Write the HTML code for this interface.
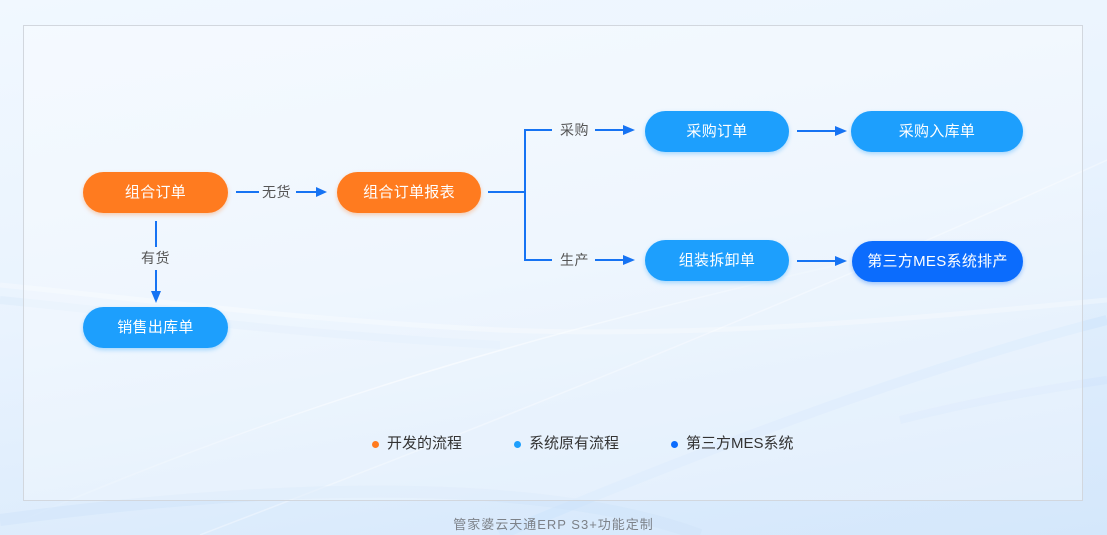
<!DOCTYPE html>
<html><head><meta charset="utf-8">
<style>
html,body{margin:0;padding:0;}
body{width:1107px;height:535px;overflow:hidden;position:relative;
font-family:"Liberation Sans","Noto Sans CJK SC",sans-serif;
background:linear-gradient(170deg,#f1f8ff 0%,#e9f3fe 45%,#dbebfc 80%,#d4e7fb 100%);}
svg.bg{position:absolute;left:0;top:0;}
.frame{position:absolute;left:23px;top:25px;width:1058px;height:474px;border:1px solid #d2d7de;background:rgba(255,255,255,0.3);}
.node{position:absolute;height:41px;border-radius:21px;color:#fff;font-size:15px;line-height:41px;text-align:center;letter-spacing:0.3px;}
.o{background:#ff7b1f;box-shadow:0 2px 4px rgba(255,123,31,0.35);}
.b{background:#1d9ffd;box-shadow:0 2px 4px rgba(29,159,253,0.35);}
.d{background:#0b6cfd;box-shadow:0 2px 4px rgba(11,108,253,0.35);}
.lbl{position:absolute;font-size:14px;color:#555;line-height:16px;letter-spacing:0.5px;}
.leg{position:absolute;top:435px;font-size:15px;color:#333;line-height:18px;}
.dot{position:absolute;width:7px;height:7px;border-radius:50%;top:441px;}
.foot{position:absolute;top:514px;left:0;width:1107px;text-align:center;font-size:13px;color:#7d8289;letter-spacing:1px;}
</style></head><body>
<svg class="bg" width="1107" height="535">
<defs>
<linearGradient id="s1" x1="0" y1="0" x2="1" y2="0">
<stop offset="0" stop-color="#fff" stop-opacity="0"/><stop offset="0.5" stop-color="#fff" stop-opacity="0.6"/><stop offset="1" stop-color="#fff" stop-opacity="0.1"/></linearGradient>
</defs>
<path d="M0 285 C150 300 300 320 500 330 C700 338 900 320 1107 300" stroke="#fff" stroke-opacity="0.3" stroke-width="5" fill="none"/>
<path d="M0 300 C150 315 300 335 500 345" stroke="#d6e8fb" stroke-opacity="0.4" stroke-width="8" fill="none"/>
<path d="M0 530 C250 420 500 340 860 260" stroke="url(#s1)" stroke-width="1.5" fill="none"/>
<path d="M200 535 C500 420 800 300 1107 160" stroke="#fff" stroke-opacity="0.35" stroke-width="1.5" fill="none"/>
<path d="M500 535 C750 430 950 360 1107 320" stroke="#cfe4fb" stroke-opacity="0.6" stroke-width="10" fill="none"/>
<path d="M900 420 C980 400 1040 390 1107 380" stroke="#cfe4fb" stroke-opacity="0.5" stroke-width="8" fill="none"/>
<path d="M0 520 C300 480 550 480 700 535" stroke="#cfe3fa" stroke-opacity="0.5" stroke-width="12" fill="none"/>
</svg>
<div class="frame"></div>
<svg class="bg" width="1107" height="535">
<g stroke="#1673f3" stroke-width="2" fill="none">
<line x1="236" y1="192" x2="259" y2="192"/>
<line x1="296" y1="192" x2="318" y2="192"/>
<polyline points="488,192 525,192"/>
<polyline points="552,130 525,130 525,260 552,260"/>
<line x1="595" y1="130" x2="626" y2="130"/>
<line x1="595" y1="260" x2="626" y2="260"/>
<line x1="797" y1="131" x2="838" y2="131"/>
<line x1="797" y1="261" x2="838" y2="261"/>
<line x1="156" y1="221" x2="156" y2="247"/>
<line x1="156" y1="270" x2="156" y2="294"/>
</g>
<g fill="#1673f3">
<polygon points="316,187 327,192 316,197"/>
<polygon points="623,125 635,130 623,135"/>
<polygon points="623,255 635,260 623,265"/>
<polygon points="835,126 847,131 835,136"/>
<polygon points="835,256 847,261 835,266"/>
<polygon points="151,291 156,303 161,291"/>
</g>
</svg>
<div class="lbl" style="left:262px;top:184px;">无货</div>
<div class="lbl" style="left:560px;top:122px;">采购</div>
<div class="lbl" style="left:560px;top:252px;">生产</div>
<div class="lbl" style="left:141px;top:250px;">有货</div>

<div class="node o" style="left:83px;top:172px;width:145px;">组合订单</div>
<div class="node o" style="left:337px;top:172px;width:144px;">组合订单报表</div>
<div class="node b" style="left:83px;top:307px;width:145px;">销售出库单</div>
<div class="node b" style="left:645px;top:111px;width:144px;">采购订单</div>
<div class="node b" style="left:851px;top:111px;width:172px;">采购入库单</div>
<div class="node b" style="left:645px;top:240px;width:144px;">组装拆卸单</div>
<div class="node d" style="left:852px;top:241px;width:171px;">第三方MES系统排产</div>

<div class="dot" style="left:372px;background:#ff7b1f;"></div>
<div class="leg" style="left:387px;">开发的流程</div>
<div class="dot" style="left:514px;background:#1d9ffd;"></div>
<div class="leg" style="left:529px;">系统原有流程</div>
<div class="dot" style="left:671px;background:#0b6cfd;"></div>
<div class="leg" style="left:686px;">第三方MES系统</div>

<div class="foot">管家婆云天通ERP S3+功能定制</div>
</body></html>
